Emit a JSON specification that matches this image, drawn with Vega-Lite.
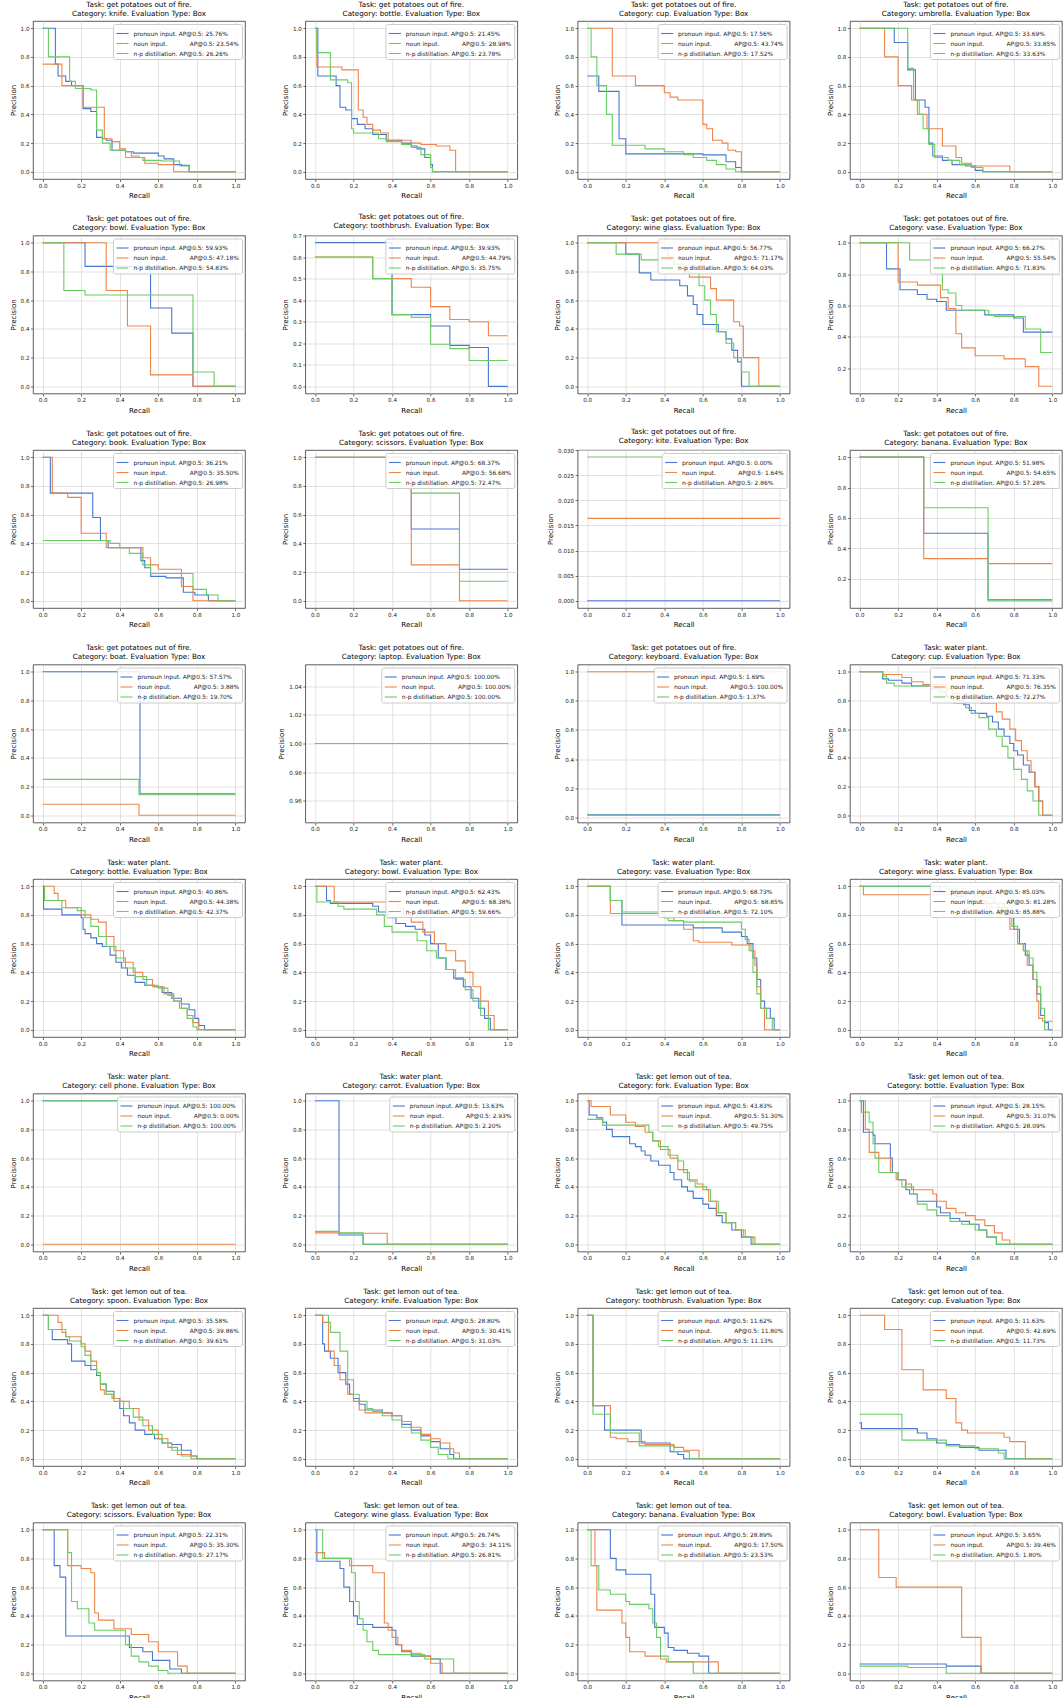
{
  "$schema": "https://vega.github.io/schema/vega-lite/v6.json",
  "padding": {"left": 8, "top": 0, "right": 0, "bottom": 0},
  "columns": 4,
  "spacing": {"row": 56.5, "column": 60.3},
  "bounds": "flush",
  "resolve": {"scale": {"color": "independent"}, "legend": {"color": "independent"}},
  "config": {
    "font": "DejaVu Sans",
    "background": "white",
    "view": {"stroke": "#333333", "strokeWidth": 0.8, "continuousWidth": 212, "continuousHeight": 158},
    "line": {"interpolate": "step-after", "strokeWidth": 1.1},
    "range": {"category": ["#4878d0", "#ee854a", "#6acc64"]},
    "title": {"fontSize": 7.2, "fontWeight": "normal", "color": "#000000", "offset": 4, "lineHeight": 9, "anchor": "middle"},
    "axis": {"labelFontSize": 5.6, "labelColor": "#222222", "titleFontSize": 7, "titleFontWeight": "normal", "titleColor": "#000000", "tickSize": 2.5, "tickColor": "#333333", "tickWidth": 0.7, "labelPadding": 1.5, "domain": false, "gridColor": "#d4d4d4", "gridWidth": 0.7, "tickCount": 5, "titlePadding": 3},
    "axisY": {"titlePadding": 4},
    "legend": {"orient": "top-right", "offset": 3, "padding": 2.5, "fillColor": "rgba(255,255,255,0.85)", "strokeColor": "#cccccc", "cornerRadius": 2, "labelFontSize": 5.9, "labelColor": "#222222", "symbolType": "stroke", "symbolSize": 144, "symbolStrokeWidth": 1.1, "rowPadding": -2, "labelOffset": 4}
  },
  "datasets": {
    "d01": [
      {"run":"pronoun","recall":0,"precision":1},{"run":"pronoun","recall":0.066,"precision":0.75},{"run":"pronoun","recall":0.08,"precision":0.667},{"run":"pronoun","recall":0.12,"precision":0.63},{"run":"pronoun","recall":0.15,"precision":0.6},{"run":"pronoun","recall":0.21,"precision":0.44},{"run":"pronoun","recall":0.25,"precision":0.42},{"run":"pronoun","recall":0.28,"precision":0.24},{"run":"pronoun","recall":0.31,"precision":0.23},{"run":"pronoun","recall":0.33,"precision":0.22},{"run":"pronoun","recall":0.36,"precision":0.15},{"run":"pronoun","recall":0.43,"precision":0.14},{"run":"pronoun","recall":0.47,"precision":0.13},{"run":"pronoun","recall":0.6,"precision":0.11},{"run":"pronoun","recall":0.63,"precision":0.09},{"run":"pronoun","recall":0.68,"precision":0.05},{"run":"pronoun","recall":0.72,"precision":0.045},{"run":"pronoun","recall":0.76,"precision":0},{"run":"pronoun","recall":1,"precision":0},
      {"run":"noun","recall":0,"precision":0.75},{"run":"noun","recall":0.1,"precision":0.6},{"run":"noun","recall":0.21,"precision":0.45},{"run":"noun","recall":0.32,"precision":0.23},{"run":"noun","recall":0.36,"precision":0.21},{"run":"noun","recall":0.4,"precision":0.16},{"run":"noun","recall":0.43,"precision":0.14},{"run":"noun","recall":0.46,"precision":0.11},{"run":"noun","recall":0.5,"precision":0.1},{"run":"noun","recall":0.53,"precision":0.06},{"run":"noun","recall":0.6,"precision":0.05},{"run":"noun","recall":0.68,"precision":0},{"run":"noun","recall":1,"precision":0},
      {"run":"np","recall":0,"precision":1},{"run":"np","recall":0.03,"precision":0.8},{"run":"np","recall":0.14,"precision":0.63},{"run":"np","recall":0.17,"precision":0.58},{"run":"np","recall":0.25,"precision":0.57},{"run":"np","recall":0.28,"precision":0.29},{"run":"np","recall":0.31,"precision":0.2},{"run":"np","recall":0.35,"precision":0.15},{"run":"np","recall":0.43,"precision":0.1},{"run":"np","recall":0.52,"precision":0.08},{"run":"np","recall":0.62,"precision":0.075},{"run":"np","recall":0.71,"precision":0.04},{"run":"np","recall":0.76,"precision":0},{"run":"np","recall":1,"precision":0}
    ],
    "d02": [
      {"run":"pronoun","recall":0,"precision":1},{"run":"pronoun","recall":0.015,"precision":0.667},{"run":"pronoun","recall":0.11,"precision":0.6},{"run":"pronoun","recall":0.13,"precision":0.45},{"run":"pronoun","recall":0.16,"precision":0.43},{"run":"pronoun","recall":0.19,"precision":0.37},{"run":"pronoun","recall":0.22,"precision":0.33},{"run":"pronoun","recall":0.26,"precision":0.3},{"run":"pronoun","recall":0.3,"precision":0.26},{"run":"pronoun","recall":0.37,"precision":0.22},{"run":"pronoun","recall":0.45,"precision":0.2},{"run":"pronoun","recall":0.5,"precision":0.18},{"run":"pronoun","recall":0.53,"precision":0.16},{"run":"pronoun","recall":0.57,"precision":0.1},{"run":"pronoun","recall":0.6,"precision":0.05},{"run":"pronoun","recall":0.61,"precision":0},{"run":"pronoun","recall":1,"precision":0},
      {"run":"noun","recall":0,"precision":1},{"run":"noun","recall":0.01,"precision":0.73},{"run":"noun","recall":0.14,"precision":0.71},{"run":"noun","recall":0.225,"precision":0.43},{"run":"noun","recall":0.25,"precision":0.38},{"run":"noun","recall":0.27,"precision":0.33},{"run":"noun","recall":0.3,"precision":0.29},{"run":"noun","recall":0.34,"precision":0.27},{"run":"noun","recall":0.38,"precision":0.22},{"run":"noun","recall":0.5,"precision":0.2},{"run":"noun","recall":0.55,"precision":0.19},{"run":"noun","recall":0.63,"precision":0.18},{"run":"noun","recall":0.7,"precision":0.15},{"run":"noun","recall":0.73,"precision":0},{"run":"noun","recall":1,"precision":0},
      {"run":"np","recall":0,"precision":1},{"run":"np","recall":0.01,"precision":0.83},{"run":"np","recall":0.08,"precision":0.64},{"run":"np","recall":0.17,"precision":0.62},{"run":"np","recall":0.19,"precision":0.3},{"run":"np","recall":0.2,"precision":0.27},{"run":"np","recall":0.33,"precision":0.23},{"run":"np","recall":0.37,"precision":0.21},{"run":"np","recall":0.45,"precision":0.19},{"run":"np","recall":0.5,"precision":0.17},{"run":"np","recall":0.55,"precision":0.12},{"run":"np","recall":0.6,"precision":0.03},{"run":"np","recall":0.61,"precision":0},{"run":"np","recall":1,"precision":0}
    ],
    "d03": [
      {"run":"pronoun","recall":0,"precision":0.667},{"run":"pronoun","recall":0.06,"precision":0.56},{"run":"pronoun","recall":0.165,"precision":0.23},{"run":"pronoun","recall":0.2,"precision":0.125},{"run":"pronoun","recall":0.6,"precision":0.118},{"run":"pronoun","recall":0.72,"precision":0.07},{"run":"pronoun","recall":0.77,"precision":0.03},{"run":"pronoun","recall":0.8,"precision":0},{"run":"pronoun","recall":1,"precision":0},
      {"run":"noun","recall":0,"precision":1},{"run":"noun","recall":0.13,"precision":0.667},{"run":"noun","recall":0.25,"precision":0.6},{"run":"noun","recall":0.4,"precision":0.55},{"run":"noun","recall":0.43,"precision":0.52},{"run":"noun","recall":0.47,"precision":0.5},{"run":"noun","recall":0.6,"precision":0.33},{"run":"noun","recall":0.62,"precision":0.3},{"run":"noun","recall":0.65,"precision":0.22},{"run":"noun","recall":0.7,"precision":0.2},{"run":"noun","recall":0.73,"precision":0.15},{"run":"noun","recall":0.77,"precision":0.14},{"run":"noun","recall":0.8,"precision":0},{"run":"noun","recall":1,"precision":0},
      {"run":"np","recall":0,"precision":1},{"run":"np","recall":0.02,"precision":0.8},{"run":"np","recall":0.05,"precision":0.6},{"run":"np","recall":0.1,"precision":0.4},{"run":"np","recall":0.13,"precision":0.185},{"run":"np","recall":0.3,"precision":0.16},{"run":"np","recall":0.4,"precision":0.14},{"run":"np","recall":0.5,"precision":0.12},{"run":"np","recall":0.55,"precision":0.1},{"run":"np","recall":0.62,"precision":0.08},{"run":"np","recall":0.67,"precision":0.05},{"run":"np","recall":0.72,"precision":0.02},{"run":"np","recall":0.77,"precision":0},{"run":"np","recall":1,"precision":0}
    ],
    "d04": [
      {"run":"pronoun","recall":0,"precision":1},{"run":"pronoun","recall":0.18,"precision":0.9},{"run":"pronoun","recall":0.25,"precision":0.71},{"run":"pronoun","recall":0.29,"precision":0.5},{"run":"pronoun","recall":0.34,"precision":0.45},{"run":"pronoun","recall":0.36,"precision":0.2},{"run":"pronoun","recall":0.38,"precision":0.11},{"run":"pronoun","recall":0.43,"precision":0.08},{"run":"pronoun","recall":0.48,"precision":0.05},{"run":"pronoun","recall":0.55,"precision":0.04},{"run":"pronoun","recall":0.6,"precision":0.01},{"run":"pronoun","recall":0.64,"precision":0},{"run":"pronoun","recall":1,"precision":0},
      {"run":"noun","recall":0,"precision":1},{"run":"noun","recall":0.13,"precision":0.8},{"run":"noun","recall":0.2,"precision":0.6},{"run":"noun","recall":0.27,"precision":0.5},{"run":"noun","recall":0.3,"precision":0.4},{"run":"noun","recall":0.35,"precision":0.3},{"run":"noun","recall":0.43,"precision":0.18},{"run":"noun","recall":0.5,"precision":0.1},{"run":"noun","recall":0.53,"precision":0.06},{"run":"noun","recall":0.58,"precision":0.04},{"run":"noun","recall":0.78,"precision":0},{"run":"noun","recall":1,"precision":0},
      {"run":"np","recall":0,"precision":1},{"run":"np","recall":0.25,"precision":0.72},{"run":"np","recall":0.28,"precision":0.5},{"run":"np","recall":0.31,"precision":0.4},{"run":"np","recall":0.33,"precision":0.3},{"run":"np","recall":0.36,"precision":0.19},{"run":"np","recall":0.39,"precision":0.1},{"run":"np","recall":0.46,"precision":0.08},{"run":"np","recall":0.52,"precision":0.05},{"run":"np","recall":0.58,"precision":0.03},{"run":"np","recall":0.64,"precision":0},{"run":"np","recall":1,"precision":0}
    ],
    "d05": [
      {"run":"pronoun","recall":0,"precision":1},{"run":"pronoun","recall":0.22,"precision":0.835},{"run":"pronoun","recall":0.56,"precision":0.545},{"run":"pronoun","recall":0.67,"precision":0.37},{"run":"pronoun","recall":0.78,"precision":0},{"run":"pronoun","recall":1,"precision":0},
      {"run":"noun","recall":0,"precision":1},{"run":"noun","recall":0.33,"precision":0.667},{"run":"noun","recall":0.44,"precision":0.42},{"run":"noun","recall":0.56,"precision":0.08},{"run":"noun","recall":0.78,"precision":0},{"run":"noun","recall":1,"precision":0},
      {"run":"np","recall":0,"precision":1},{"run":"np","recall":0.11,"precision":0.667},{"run":"np","recall":0.22,"precision":0.636},{"run":"np","recall":0.78,"precision":0.1},{"run":"np","recall":0.89,"precision":0},{"run":"np","recall":1,"precision":0}
    ],
    "d06": [
      {"run":"pronoun","recall":0,"precision":0.667},{"run":"pronoun","recall":0.4,"precision":0.333},{"run":"pronoun","recall":0.6,"precision":0.28},{"run":"pronoun","recall":0.7,"precision":0.19},{"run":"pronoun","recall":0.8,"precision":0.18},{"run":"pronoun","recall":0.9,"precision":0},{"run":"pronoun","recall":1,"precision":0},
      {"run":"noun","recall":0,"precision":0.6},{"run":"noun","recall":0.3,"precision":0.5},{"run":"noun","recall":0.5,"precision":0.46},{"run":"noun","recall":0.6,"precision":0.37},{"run":"noun","recall":0.7,"precision":0.31},{"run":"noun","recall":0.8,"precision":0.3},{"run":"noun","recall":0.9,"precision":0.235},{"run":"noun","recall":1,"precision":0.235},
      {"run":"np","recall":0,"precision":0.6},{"run":"np","recall":0.3,"precision":0.5},{"run":"np","recall":0.4,"precision":0.333},{"run":"np","recall":0.5,"precision":0.32},{"run":"np","recall":0.6,"precision":0.195},{"run":"np","recall":0.7,"precision":0.175},{"run":"np","recall":0.8,"precision":0.12},{"run":"np","recall":1,"precision":0.12}
    ],
    "d07": [
      {"run":"pronoun","recall":0,"precision":1},{"run":"pronoun","recall":0.2,"precision":0.92},{"run":"pronoun","recall":0.27,"precision":0.79},{"run":"pronoun","recall":0.33,"precision":0.74},{"run":"pronoun","recall":0.48,"precision":0.7},{"run":"pronoun","recall":0.52,"precision":0.63},{"run":"pronoun","recall":0.55,"precision":0.57},{"run":"pronoun","recall":0.57,"precision":0.5},{"run":"pronoun","recall":0.6,"precision":0.43},{"run":"pronoun","recall":0.68,"precision":0.38},{"run":"pronoun","recall":0.72,"precision":0.33},{"run":"pronoun","recall":0.75,"precision":0.25},{"run":"pronoun","recall":0.78,"precision":0.17},{"run":"pronoun","recall":0.8,"precision":0},{"run":"pronoun","recall":1,"precision":0},
      {"run":"noun","recall":0,"precision":1},{"run":"noun","recall":0.4,"precision":0.95},{"run":"noun","recall":0.42,"precision":0.9},{"run":"noun","recall":0.45,"precision":0.85},{"run":"noun","recall":0.5,"precision":0.8},{"run":"noun","recall":0.53,"precision":0.76},{"run":"noun","recall":0.64,"precision":0.68},{"run":"noun","recall":0.67,"precision":0.6},{"run":"noun","recall":0.76,"precision":0.45},{"run":"noun","recall":0.79,"precision":0.42},{"run":"noun","recall":0.81,"precision":0.2},{"run":"noun","recall":0.89,"precision":0},{"run":"noun","recall":1,"precision":0},
      {"run":"np","recall":0,"precision":1},{"run":"np","recall":0.15,"precision":0.92},{"run":"np","recall":0.28,"precision":0.88},{"run":"np","recall":0.45,"precision":0.85},{"run":"np","recall":0.5,"precision":0.79},{"run":"np","recall":0.58,"precision":0.7},{"run":"np","recall":0.61,"precision":0.6},{"run":"np","recall":0.64,"precision":0.5},{"run":"np","recall":0.67,"precision":0.38},{"run":"np","recall":0.72,"precision":0.3},{"run":"np","recall":0.76,"precision":0.2},{"run":"np","recall":0.8,"precision":0.1},{"run":"np","recall":0.84,"precision":0},{"run":"np","recall":1,"precision":0}
    ],
    "d08": [
      {"run":"pronoun","recall":0,"precision":1},{"run":"pronoun","recall":0.14,"precision":0.833},{"run":"pronoun","recall":0.21,"precision":0.7},{"run":"pronoun","recall":0.3,"precision":0.67},{"run":"pronoun","recall":0.35,"precision":0.64},{"run":"pronoun","recall":0.4,"precision":0.625},{"run":"pronoun","recall":0.45,"precision":0.57},{"run":"pronoun","recall":0.65,"precision":0.54},{"run":"pronoun","recall":0.8,"precision":0.52},{"run":"pronoun","recall":0.85,"precision":0.43},{"run":"pronoun","recall":1,"precision":0.43},
      {"run":"noun","recall":0,"precision":1},{"run":"noun","recall":0.2,"precision":0.75},{"run":"noun","recall":0.3,"precision":0.73},{"run":"noun","recall":0.42,"precision":0.65},{"run":"noun","recall":0.46,"precision":0.58},{"run":"noun","recall":0.5,"precision":0.42},{"run":"noun","recall":0.53,"precision":0.33},{"run":"noun","recall":0.6,"precision":0.28},{"run":"noun","recall":0.75,"precision":0.26},{"run":"noun","recall":0.86,"precision":0.21},{"run":"noun","recall":0.93,"precision":0.085},{"run":"noun","recall":1,"precision":0.085},
      {"run":"np","recall":0,"precision":1},{"run":"np","recall":0.26,"precision":0.89},{"run":"np","recall":0.43,"precision":0.7},{"run":"np","recall":0.46,"precision":0.68},{"run":"np","recall":0.5,"precision":0.6},{"run":"np","recall":0.53,"precision":0.57},{"run":"np","recall":0.67,"precision":0.54},{"run":"np","recall":0.7,"precision":0.53},{"run":"np","recall":0.86,"precision":0.45},{"run":"np","recall":0.94,"precision":0.3},{"run":"np","recall":1,"precision":0.3}
    ],
    "d09": [
      {"run":"pronoun","recall":0,"precision":1},{"run":"pronoun","recall":0.04,"precision":0.75},{"run":"pronoun","recall":0.26,"precision":0.58},{"run":"pronoun","recall":0.3,"precision":0.42},{"run":"pronoun","recall":0.34,"precision":0.37},{"run":"pronoun","recall":0.51,"precision":0.28},{"run":"pronoun","recall":0.53,"precision":0.23},{"run":"pronoun","recall":0.56,"precision":0.17},{"run":"pronoun","recall":0.64,"precision":0.16},{"run":"pronoun","recall":0.73,"precision":0.06},{"run":"pronoun","recall":0.79,"precision":0.04},{"run":"pronoun","recall":0.86,"precision":0},{"run":"pronoun","recall":1,"precision":0},
      {"run":"noun","recall":0,"precision":1},{"run":"noun","recall":0.05,"precision":0.75},{"run":"noun","recall":0.13,"precision":0.72},{"run":"noun","recall":0.2,"precision":0.47},{"run":"noun","recall":0.33,"precision":0.37},{"run":"noun","recall":0.52,"precision":0.3},{"run":"noun","recall":0.56,"precision":0.25},{"run":"noun","recall":0.6,"precision":0.22},{"run":"noun","recall":0.72,"precision":0.1},{"run":"noun","recall":0.78,"precision":0},{"run":"noun","recall":1,"precision":0},
      {"run":"np","recall":0,"precision":0.42},{"run":"np","recall":0.35,"precision":0.4},{"run":"np","recall":0.4,"precision":0.37},{"run":"np","recall":0.45,"precision":0.33},{"run":"np","recall":0.52,"precision":0.25},{"run":"np","recall":0.56,"precision":0.19},{"run":"np","recall":0.78,"precision":0.08},{"run":"np","recall":0.85,"precision":0.04},{"run":"np","recall":0.91,"precision":0},{"run":"np","recall":1,"precision":0}
    ],
    "d10": [
      {"run":"pronoun","recall":0,"precision":1},{"run":"pronoun","recall":0.5,"precision":0.5},{"run":"pronoun","recall":0.75,"precision":0.22},{"run":"pronoun","recall":1,"precision":0.22},
      {"run":"noun","recall":0,"precision":1},{"run":"noun","recall":0.5,"precision":0.25},{"run":"noun","recall":0.75,"precision":0},{"run":"noun","recall":1,"precision":0},
      {"run":"np","recall":0,"precision":1},{"run":"np","recall":0.5,"precision":0.75},{"run":"np","recall":0.75,"precision":0.136},{"run":"np","recall":1,"precision":0.136}
    ],
    "d11": [
      {"run":"pronoun","recall":0,"precision":0},{"run":"pronoun","recall":1,"precision":0},
      {"run":"noun","recall":0,"precision":0.0164},{"run":"noun","recall":1,"precision":0.0164},
      {"run":"np","recall":0,"precision":0.0286},{"run":"np","recall":1,"precision":0.0286}
    ],
    "d12": [
      {"run":"pronoun","recall":0,"precision":1},{"run":"pronoun","recall":0.333,"precision":0.5},{"run":"pronoun","recall":0.667,"precision":0.0625},{"run":"pronoun","recall":1,"precision":0.0625},
      {"run":"noun","recall":0,"precision":1},{"run":"noun","recall":0.333,"precision":0.333},{"run":"noun","recall":0.667,"precision":0.3},{"run":"noun","recall":1,"precision":0.3},
      {"run":"np","recall":0,"precision":1},{"run":"np","recall":0.333,"precision":0.667},{"run":"np","recall":0.667,"precision":0.055},{"run":"np","recall":1,"precision":0.055}
    ],
    "d13": [
      {"run":"pronoun","recall":0,"precision":1},{"run":"pronoun","recall":0.505,"precision":0.15},{"run":"pronoun","recall":1,"precision":0.15},
      {"run":"noun","recall":0,"precision":0.077},{"run":"noun","recall":0.5,"precision":0},{"run":"noun","recall":1,"precision":0},
      {"run":"np","recall":0,"precision":0.25},{"run":"np","recall":0.5,"precision":0.143},{"run":"np","recall":1,"precision":0.143}
    ],
    "d14": [
      {"run":"pronoun","recall":0,"precision":1},{"run":"pronoun","recall":1,"precision":1},
      {"run":"noun","recall":0,"precision":1},{"run":"noun","recall":1,"precision":1},
      {"run":"np","recall":0,"precision":1},{"run":"np","recall":1,"precision":1}
    ],
    "d15": [
      {"run":"pronoun","recall":0,"precision":0.0169},{"run":"pronoun","recall":1,"precision":0.0169},
      {"run":"noun","recall":0,"precision":1},{"run":"noun","recall":1,"precision":1},
      {"run":"np","recall":0,"precision":0.0137},{"run":"np","recall":1,"precision":0.0137}
    ],
    "d16": [
      {"run":"pronoun","recall":0,"precision":1},{"run":"pronoun","recall":0.12,"precision":0.95},{"run":"pronoun","recall":0.15,"precision":0.94},{"run":"pronoun","recall":0.22,"precision":0.92},{"run":"pronoun","recall":0.27,"precision":0.9},{"run":"pronoun","recall":0.37,"precision":0.88},{"run":"pronoun","recall":0.42,"precision":0.86},{"run":"pronoun","recall":0.45,"precision":0.83},{"run":"pronoun","recall":0.51,"precision":0.8},{"run":"pronoun","recall":0.54,"precision":0.77},{"run":"pronoun","recall":0.57,"precision":0.73},{"run":"pronoun","recall":0.6,"precision":0.71},{"run":"pronoun","recall":0.66,"precision":0.69},{"run":"pronoun","recall":0.69,"precision":0.65},{"run":"pronoun","recall":0.72,"precision":0.6},{"run":"pronoun","recall":0.75,"precision":0.55},{"run":"pronoun","recall":0.78,"precision":0.5},{"run":"pronoun","recall":0.8,"precision":0.45},{"run":"pronoun","recall":0.82,"precision":0.42},{"run":"pronoun","recall":0.85,"precision":0.35},{"run":"pronoun","recall":0.88,"precision":0.3},{"run":"pronoun","recall":0.91,"precision":0.2},{"run":"pronoun","recall":0.93,"precision":0.1},{"run":"pronoun","recall":0.95,"precision":0},{"run":"pronoun","recall":1,"precision":0},
      {"run":"noun","recall":0,"precision":1},{"run":"noun","recall":0.12,"precision":0.98},{"run":"noun","recall":0.22,"precision":0.96},{"run":"noun","recall":0.27,"precision":0.93},{"run":"noun","recall":0.33,"precision":0.91},{"run":"noun","recall":0.45,"precision":0.88},{"run":"noun","recall":0.48,"precision":0.85},{"run":"noun","recall":0.52,"precision":0.82},{"run":"noun","recall":0.6,"precision":0.8},{"run":"noun","recall":0.63,"precision":0.78},{"run":"noun","recall":0.71,"precision":0.72},{"run":"noun","recall":0.74,"precision":0.67},{"run":"noun","recall":0.78,"precision":0.6},{"run":"noun","recall":0.81,"precision":0.52},{"run":"noun","recall":0.84,"precision":0.45},{"run":"noun","recall":0.87,"precision":0.38},{"run":"noun","recall":0.89,"precision":0.3},{"run":"noun","recall":0.91,"precision":0.2},{"run":"noun","recall":0.93,"precision":0.1},{"run":"noun","recall":0.95,"precision":0},{"run":"noun","recall":1,"precision":0},
      {"run":"np","recall":0,"precision":1},{"run":"np","recall":0.12,"precision":0.97},{"run":"np","recall":0.14,"precision":0.92},{"run":"np","recall":0.18,"precision":0.9},{"run":"np","recall":0.4,"precision":0.88},{"run":"np","recall":0.45,"precision":0.82},{"run":"np","recall":0.49,"precision":0.78},{"run":"np","recall":0.55,"precision":0.75},{"run":"np","recall":0.58,"precision":0.71},{"run":"np","recall":0.62,"precision":0.68},{"run":"np","recall":0.67,"precision":0.6},{"run":"np","recall":0.71,"precision":0.55},{"run":"np","recall":0.74,"precision":0.48},{"run":"np","recall":0.77,"precision":0.4},{"run":"np","recall":0.8,"precision":0.32},{"run":"np","recall":0.84,"precision":0.25},{"run":"np","recall":0.87,"precision":0.17},{"run":"np","recall":0.9,"precision":0.1},{"run":"np","recall":0.93,"precision":0},{"run":"np","recall":1,"precision":0}
    ],
    "d17": [
      {"run":"pronoun","recall":0,"precision":1},{"run":"pronoun","recall":0.005,"precision":0.84},{"run":"pronoun","recall":0.1,"precision":0.8},{"run":"pronoun","recall":0.2,"precision":0.78},{"run":"pronoun","recall":0.21,"precision":0.7},{"run":"pronoun","recall":0.22,"precision":0.67},{"run":"pronoun","recall":0.25,"precision":0.64},{"run":"pronoun","recall":0.28,"precision":0.6},{"run":"pronoun","recall":0.31,"precision":0.58},{"run":"pronoun","recall":0.35,"precision":0.52},{"run":"pronoun","recall":0.38,"precision":0.47},{"run":"pronoun","recall":0.41,"precision":0.43},{"run":"pronoun","recall":0.44,"precision":0.38},{"run":"pronoun","recall":0.48,"precision":0.33},{"run":"pronoun","recall":0.53,"precision":0.31},{"run":"pronoun","recall":0.58,"precision":0.3},{"run":"pronoun","recall":0.62,"precision":0.26},{"run":"pronoun","recall":0.67,"precision":0.22},{"run":"pronoun","recall":0.72,"precision":0.18},{"run":"pronoun","recall":0.76,"precision":0.14},{"run":"pronoun","recall":0.79,"precision":0.08},{"run":"pronoun","recall":0.81,"precision":0.03},{"run":"pronoun","recall":0.84,"precision":0},{"run":"pronoun","recall":1,"precision":0},
      {"run":"noun","recall":0,"precision":1},{"run":"noun","recall":0.06,"precision":0.95},{"run":"noun","recall":0.08,"precision":0.9},{"run":"noun","recall":0.12,"precision":0.85},{"run":"noun","recall":0.2,"precision":0.8},{"run":"noun","recall":0.25,"precision":0.77},{"run":"noun","recall":0.29,"precision":0.75},{"run":"noun","recall":0.33,"precision":0.65},{"run":"noun","recall":0.37,"precision":0.55},{"run":"noun","recall":0.42,"precision":0.47},{"run":"noun","recall":0.47,"precision":0.4},{"run":"noun","recall":0.52,"precision":0.35},{"run":"noun","recall":0.57,"precision":0.3},{"run":"noun","recall":0.63,"precision":0.25},{"run":"noun","recall":0.68,"precision":0.2},{"run":"noun","recall":0.72,"precision":0.15},{"run":"noun","recall":0.75,"precision":0.1},{"run":"noun","recall":0.78,"precision":0.05},{"run":"noun","recall":0.81,"precision":0},{"run":"noun","recall":1,"precision":0},
      {"run":"np","recall":0,"precision":1},{"run":"np","recall":0.01,"precision":0.9},{"run":"np","recall":0.1,"precision":0.85},{"run":"np","recall":0.18,"precision":0.83},{"run":"np","recall":0.22,"precision":0.78},{"run":"np","recall":0.25,"precision":0.72},{"run":"np","recall":0.29,"precision":0.65},{"run":"np","recall":0.33,"precision":0.58},{"run":"np","recall":0.38,"precision":0.5},{"run":"np","recall":0.43,"precision":0.43},{"run":"np","recall":0.48,"precision":0.37},{"run":"np","recall":0.54,"precision":0.31},{"run":"np","recall":0.6,"precision":0.29},{"run":"np","recall":0.65,"precision":0.24},{"run":"np","recall":0.68,"precision":0.2},{"run":"np","recall":0.71,"precision":0.15},{"run":"np","recall":0.75,"precision":0.08},{"run":"np","recall":0.78,"precision":0.02},{"run":"np","recall":0.8,"precision":0},{"run":"np","recall":1,"precision":0}
    ],
    "d18": [
      {"run":"pronoun","recall":0,"precision":1},{"run":"pronoun","recall":0.06,"precision":0.9},{"run":"pronoun","recall":0.08,"precision":0.88},{"run":"pronoun","recall":0.3,"precision":0.86},{"run":"pronoun","recall":0.33,"precision":0.82},{"run":"pronoun","recall":0.38,"precision":0.78},{"run":"pronoun","recall":0.42,"precision":0.74},{"run":"pronoun","recall":0.47,"precision":0.72},{"run":"pronoun","recall":0.52,"precision":0.7},{"run":"pronoun","recall":0.57,"precision":0.66},{"run":"pronoun","recall":0.6,"precision":0.6},{"run":"pronoun","recall":0.64,"precision":0.5},{"run":"pronoun","recall":0.68,"precision":0.42},{"run":"pronoun","recall":0.72,"precision":0.36},{"run":"pronoun","recall":0.77,"precision":0.3},{"run":"pronoun","recall":0.81,"precision":0.22},{"run":"pronoun","recall":0.85,"precision":0.15},{"run":"pronoun","recall":0.88,"precision":0.08},{"run":"pronoun","recall":0.91,"precision":0},{"run":"pronoun","recall":1,"precision":0},
      {"run":"noun","recall":0,"precision":1},{"run":"noun","recall":0.1,"precision":0.89},{"run":"noun","recall":0.43,"precision":0.85},{"run":"noun","recall":0.46,"precision":0.8},{"run":"noun","recall":0.5,"precision":0.75},{"run":"noun","recall":0.56,"precision":0.68},{"run":"noun","recall":0.62,"precision":0.6},{"run":"noun","recall":0.68,"precision":0.55},{"run":"noun","recall":0.73,"precision":0.48},{"run":"noun","recall":0.78,"precision":0.4},{"run":"noun","recall":0.82,"precision":0.3},{"run":"noun","recall":0.86,"precision":0.2},{"run":"noun","recall":0.9,"precision":0.1},{"run":"noun","recall":0.93,"precision":0},{"run":"noun","recall":1,"precision":0},
      {"run":"np","recall":0,"precision":1},{"run":"np","recall":0.01,"precision":0.89},{"run":"np","recall":0.12,"precision":0.86},{"run":"np","recall":0.15,"precision":0.84},{"run":"np","recall":0.32,"precision":0.8},{"run":"np","recall":0.36,"precision":0.72},{"run":"np","recall":0.4,"precision":0.68},{"run":"np","recall":0.53,"precision":0.62},{"run":"np","recall":0.58,"precision":0.55},{"run":"np","recall":0.63,"precision":0.5},{"run":"np","recall":0.68,"precision":0.42},{"run":"np","recall":0.73,"precision":0.35},{"run":"np","recall":0.78,"precision":0.28},{"run":"np","recall":0.82,"precision":0.2},{"run":"np","recall":0.86,"precision":0.1},{"run":"np","recall":0.9,"precision":0},{"run":"np","recall":1,"precision":0}
    ],
    "d19": [
      {"run":"pronoun","recall":0,"precision":1},{"run":"pronoun","recall":0.12,"precision":0.9},{"run":"pronoun","recall":0.18,"precision":0.73},{"run":"pronoun","recall":0.55,"precision":0.71},{"run":"pronoun","recall":0.7,"precision":0.68},{"run":"pronoun","recall":0.8,"precision":0.65},{"run":"pronoun","recall":0.83,"precision":0.6},{"run":"pronoun","recall":0.86,"precision":0.5},{"run":"pronoun","recall":0.88,"precision":0.35},{"run":"pronoun","recall":0.9,"precision":0.2},{"run":"pronoun","recall":0.92,"precision":0.15},{"run":"pronoun","recall":0.95,"precision":0.08},{"run":"pronoun","recall":0.97,"precision":0},{"run":"pronoun","recall":1,"precision":0},
      {"run":"noun","recall":0,"precision":1},{"run":"noun","recall":0.12,"precision":0.81},{"run":"noun","recall":0.4,"precision":0.78},{"run":"noun","recall":0.45,"precision":0.76},{"run":"noun","recall":0.5,"precision":0.7},{"run":"noun","recall":0.55,"precision":0.62},{"run":"noun","recall":0.58,"precision":0.61},{"run":"noun","recall":0.75,"precision":0.59},{"run":"noun","recall":0.85,"precision":0.55},{"run":"noun","recall":0.87,"precision":0.45},{"run":"noun","recall":0.88,"precision":0.3},{"run":"noun","recall":0.9,"precision":0.15},{"run":"noun","recall":0.92,"precision":0},{"run":"noun","recall":1,"precision":0},
      {"run":"np","recall":0,"precision":1},{"run":"np","recall":0.12,"precision":0.9},{"run":"np","recall":0.18,"precision":0.82},{"run":"np","recall":0.4,"precision":0.78},{"run":"np","recall":0.42,"precision":0.76},{"run":"np","recall":0.5,"precision":0.75},{"run":"np","recall":0.8,"precision":0.7},{"run":"np","recall":0.82,"precision":0.63},{"run":"np","recall":0.84,"precision":0.55},{"run":"np","recall":0.86,"precision":0.4},{"run":"np","recall":0.88,"precision":0.25},{"run":"np","recall":0.9,"precision":0.15},{"run":"np","recall":0.93,"precision":0.08},{"run":"np","recall":0.96,"precision":0},{"run":"np","recall":1,"precision":0}
    ],
    "d20": [
      {"run":"pronoun","recall":0,"precision":1},{"run":"pronoun","recall":0.42,"precision":0.96},{"run":"pronoun","recall":0.5,"precision":0.93},{"run":"pronoun","recall":0.55,"precision":0.9},{"run":"pronoun","recall":0.65,"precision":0.88},{"run":"pronoun","recall":0.72,"precision":0.85},{"run":"pronoun","recall":0.77,"precision":0.82},{"run":"pronoun","recall":0.8,"precision":0.7},{"run":"pronoun","recall":0.83,"precision":0.6},{"run":"pronoun","recall":0.86,"precision":0.52},{"run":"pronoun","recall":0.88,"precision":0.45},{"run":"pronoun","recall":0.9,"precision":0.35},{"run":"pronoun","recall":0.92,"precision":0.25},{"run":"pronoun","recall":0.94,"precision":0.1},{"run":"pronoun","recall":0.96,"precision":0.05},{"run":"pronoun","recall":0.98,"precision":0},{"run":"pronoun","recall":1,"precision":0},
      {"run":"noun","recall":0,"precision":1},{"run":"noun","recall":0.02,"precision":0.94},{"run":"noun","recall":0.6,"precision":0.9},{"run":"noun","recall":0.66,"precision":0.85},{"run":"noun","recall":0.72,"precision":0.8},{"run":"noun","recall":0.78,"precision":0.7},{"run":"noun","recall":0.82,"precision":0.6},{"run":"noun","recall":0.85,"precision":0.55},{"run":"noun","recall":0.87,"precision":0.45},{"run":"noun","recall":0.9,"precision":0.35},{"run":"noun","recall":0.92,"precision":0.2},{"run":"noun","recall":0.93,"precision":0.08},{"run":"noun","recall":0.95,"precision":0.06},{"run":"noun","recall":1,"precision":0.06},
      {"run":"np","recall":0,"precision":1},{"run":"np","recall":0.45,"precision":0.98},{"run":"np","recall":0.55,"precision":0.95},{"run":"np","recall":0.63,"precision":0.92},{"run":"np","recall":0.7,"precision":0.88},{"run":"np","recall":0.75,"precision":0.82},{"run":"np","recall":0.79,"precision":0.72},{"run":"np","recall":0.82,"precision":0.6},{"run":"np","recall":0.85,"precision":0.55},{"run":"np","recall":0.88,"precision":0.5},{"run":"np","recall":0.9,"precision":0.4},{"run":"np","recall":0.92,"precision":0.3},{"run":"np","recall":0.94,"precision":0.15},{"run":"np","recall":0.96,"precision":0},{"run":"np","recall":1,"precision":0}
    ],
    "d21": [
      {"run":"pronoun","recall":0,"precision":1},{"run":"pronoun","recall":1,"precision":1},
      {"run":"noun","recall":0,"precision":0},{"run":"noun","recall":1,"precision":0},
      {"run":"np","recall":0,"precision":1},{"run":"np","recall":1,"precision":1}
    ],
    "d22": [
      {"run":"pronoun","recall":0,"precision":1},{"run":"pronoun","recall":0.125,"precision":0.065},{"run":"pronoun","recall":0.25,"precision":0},{"run":"pronoun","recall":1,"precision":0},
      {"run":"noun","recall":0,"precision":0.08},{"run":"noun","recall":0.125,"precision":0.077},{"run":"noun","recall":0.375,"precision":0},{"run":"noun","recall":1,"precision":0},
      {"run":"np","recall":0,"precision":0.09},{"run":"np","recall":0.125,"precision":0.08},{"run":"np","recall":0.25,"precision":0},{"run":"np","recall":1,"precision":0}
    ],
    "d23": [
      {"run":"pronoun","recall":0,"precision":1},{"run":"pronoun","recall":0.01,"precision":0.9},{"run":"pronoun","recall":0.05,"precision":0.88},{"run":"pronoun","recall":0.08,"precision":0.85},{"run":"pronoun","recall":0.1,"precision":0.8},{"run":"pronoun","recall":0.13,"precision":0.75},{"run":"pronoun","recall":0.22,"precision":0.7},{"run":"pronoun","recall":0.25,"precision":0.68},{"run":"pronoun","recall":0.28,"precision":0.65},{"run":"pronoun","recall":0.3,"precision":0.62},{"run":"pronoun","recall":0.33,"precision":0.58},{"run":"pronoun","recall":0.37,"precision":0.55},{"run":"pronoun","recall":0.43,"precision":0.5},{"run":"pronoun","recall":0.45,"precision":0.45},{"run":"pronoun","recall":0.49,"precision":0.4},{"run":"pronoun","recall":0.52,"precision":0.37},{"run":"pronoun","recall":0.55,"precision":0.32},{"run":"pronoun","recall":0.6,"precision":0.28},{"run":"pronoun","recall":0.63,"precision":0.25},{"run":"pronoun","recall":0.67,"precision":0.2},{"run":"pronoun","recall":0.7,"precision":0.15},{"run":"pronoun","recall":0.75,"precision":0.1},{"run":"pronoun","recall":0.8,"precision":0.05},{"run":"pronoun","recall":0.85,"precision":0},{"run":"pronoun","recall":1,"precision":0},
      {"run":"noun","recall":0,"precision":1},{"run":"noun","recall":0.02,"precision":0.96},{"run":"noun","recall":0.12,"precision":0.9},{"run":"noun","recall":0.2,"precision":0.85},{"run":"noun","recall":0.25,"precision":0.82},{"run":"noun","recall":0.3,"precision":0.78},{"run":"noun","recall":0.34,"precision":0.72},{"run":"noun","recall":0.38,"precision":0.66},{"run":"noun","recall":0.43,"precision":0.6},{"run":"noun","recall":0.47,"precision":0.52},{"run":"noun","recall":0.52,"precision":0.45},{"run":"noun","recall":0.57,"precision":0.42},{"run":"noun","recall":0.6,"precision":0.38},{"run":"noun","recall":0.63,"precision":0.3},{"run":"noun","recall":0.67,"precision":0.22},{"run":"noun","recall":0.72,"precision":0.15},{"run":"noun","recall":0.77,"precision":0.1},{"run":"noun","recall":0.82,"precision":0.05},{"run":"noun","recall":0.87,"precision":0},{"run":"noun","recall":1,"precision":0},
      {"run":"np","recall":0,"precision":0.87},{"run":"np","recall":0.08,"precision":0.83},{"run":"np","recall":0.32,"precision":0.78},{"run":"np","recall":0.34,"precision":0.72},{"run":"np","recall":0.37,"precision":0.68},{"run":"np","recall":0.42,"precision":0.62},{"run":"np","recall":0.47,"precision":0.58},{"run":"np","recall":0.5,"precision":0.5},{"run":"np","recall":0.53,"precision":0.44},{"run":"np","recall":0.56,"precision":0.4},{"run":"np","recall":0.62,"precision":0.38},{"run":"np","recall":0.64,"precision":0.3},{"run":"np","recall":0.68,"precision":0.22},{"run":"np","recall":0.72,"precision":0.15},{"run":"np","recall":0.77,"precision":0.1},{"run":"np","recall":0.81,"precision":0.05},{"run":"np","recall":0.86,"precision":0},{"run":"np","recall":1,"precision":0}
    ],
    "d24": [
      {"run":"pronoun","recall":0,"precision":1},{"run":"pronoun","recall":0.02,"precision":0.78},{"run":"pronoun","recall":0.07,"precision":0.76},{"run":"pronoun","recall":0.08,"precision":0.7},{"run":"pronoun","recall":0.16,"precision":0.6},{"run":"pronoun","recall":0.17,"precision":0.5},{"run":"pronoun","recall":0.2,"precision":0.45},{"run":"pronoun","recall":0.24,"precision":0.38},{"run":"pronoun","recall":0.26,"precision":0.35},{"run":"pronoun","recall":0.3,"precision":0.3},{"run":"pronoun","recall":0.4,"precision":0.26},{"run":"pronoun","recall":0.42,"precision":0.22},{"run":"pronoun","recall":0.47,"precision":0.18},{"run":"pronoun","recall":0.52,"precision":0.16},{"run":"pronoun","recall":0.57,"precision":0.14},{"run":"pronoun","recall":0.62,"precision":0.1},{"run":"pronoun","recall":0.66,"precision":0.05},{"run":"pronoun","recall":0.71,"precision":0},{"run":"pronoun","recall":1,"precision":0},
      {"run":"noun","recall":0,"precision":1},{"run":"noun","recall":0.01,"precision":0.92},{"run":"noun","recall":0.03,"precision":0.8},{"run":"noun","recall":0.05,"precision":0.64},{"run":"noun","recall":0.1,"precision":0.6},{"run":"noun","recall":0.16,"precision":0.5},{"run":"noun","recall":0.19,"precision":0.45},{"run":"noun","recall":0.24,"precision":0.42},{"run":"noun","recall":0.27,"precision":0.38},{"run":"noun","recall":0.38,"precision":0.35},{"run":"noun","recall":0.4,"precision":0.3},{"run":"noun","recall":0.45,"precision":0.25},{"run":"noun","recall":0.5,"precision":0.22},{"run":"noun","recall":0.55,"precision":0.2},{"run":"noun","recall":0.6,"precision":0.17},{"run":"noun","recall":0.65,"precision":0.13},{"run":"noun","recall":0.7,"precision":0.08},{"run":"noun","recall":0.74,"precision":0.03},{"run":"noun","recall":0.78,"precision":0},{"run":"noun","recall":1,"precision":0},
      {"run":"np","recall":0,"precision":1},{"run":"np","recall":0.03,"precision":0.92},{"run":"np","recall":0.05,"precision":0.85},{"run":"np","recall":0.07,"precision":0.7},{"run":"np","recall":0.08,"precision":0.6},{"run":"np","recall":0.1,"precision":0.5},{"run":"np","recall":0.2,"precision":0.45},{"run":"np","recall":0.22,"precision":0.4},{"run":"np","recall":0.28,"precision":0.35},{"run":"np","recall":0.3,"precision":0.28},{"run":"np","recall":0.35,"precision":0.24},{"run":"np","recall":0.4,"precision":0.2},{"run":"np","recall":0.47,"precision":0.16},{"run":"np","recall":0.53,"precision":0.14},{"run":"np","recall":0.6,"precision":0.1},{"run":"np","recall":0.66,"precision":0.05},{"run":"np","recall":0.71,"precision":0},{"run":"np","recall":1,"precision":0}
    ],
    "d25": [
      {"run":"pronoun","recall":0,"precision":1},{"run":"pronoun","recall":0.03,"precision":0.9},{"run":"pronoun","recall":0.05,"precision":0.83},{"run":"pronoun","recall":0.13,"precision":0.8},{"run":"pronoun","recall":0.15,"precision":0.68},{"run":"pronoun","recall":0.22,"precision":0.65},{"run":"pronoun","recall":0.25,"precision":0.62},{"run":"pronoun","recall":0.28,"precision":0.58},{"run":"pronoun","recall":0.3,"precision":0.52},{"run":"pronoun","recall":0.33,"precision":0.47},{"run":"pronoun","recall":0.37,"precision":0.42},{"run":"pronoun","recall":0.4,"precision":0.35},{"run":"pronoun","recall":0.42,"precision":0.3},{"run":"pronoun","recall":0.45,"precision":0.25},{"run":"pronoun","recall":0.48,"precision":0.2},{"run":"pronoun","recall":0.53,"precision":0.17},{"run":"pronoun","recall":0.58,"precision":0.14},{"run":"pronoun","recall":0.62,"precision":0.11},{"run":"pronoun","recall":0.67,"precision":0.1},{"run":"pronoun","recall":0.72,"precision":0.06},{"run":"pronoun","recall":0.77,"precision":0.02},{"run":"pronoun","recall":0.8,"precision":0},{"run":"pronoun","recall":1,"precision":0},
      {"run":"noun","recall":0,"precision":1},{"run":"noun","recall":0.08,"precision":0.95},{"run":"noun","recall":0.1,"precision":0.88},{"run":"noun","recall":0.12,"precision":0.85},{"run":"noun","recall":0.2,"precision":0.8},{"run":"noun","recall":0.22,"precision":0.75},{"run":"noun","recall":0.25,"precision":0.68},{"run":"noun","recall":0.28,"precision":0.6},{"run":"noun","recall":0.3,"precision":0.48},{"run":"noun","recall":0.32,"precision":0.45},{"run":"noun","recall":0.36,"precision":0.42},{"run":"noun","recall":0.4,"precision":0.4},{"run":"noun","recall":0.45,"precision":0.35},{"run":"noun","recall":0.5,"precision":0.27},{"run":"noun","recall":0.55,"precision":0.2},{"run":"noun","recall":0.6,"precision":0.14},{"run":"noun","recall":0.65,"precision":0.08},{"run":"noun","recall":0.7,"precision":0.03},{"run":"noun","recall":0.77,"precision":0},{"run":"noun","recall":1,"precision":0},
      {"run":"np","recall":0,"precision":1},{"run":"np","recall":0.03,"precision":0.9},{"run":"np","recall":0.12,"precision":0.85},{"run":"np","recall":0.14,"precision":0.82},{"run":"np","recall":0.2,"precision":0.78},{"run":"np","recall":0.22,"precision":0.72},{"run":"np","recall":0.25,"precision":0.65},{"run":"np","recall":0.28,"precision":0.6},{"run":"np","recall":0.3,"precision":0.52},{"run":"np","recall":0.33,"precision":0.45},{"run":"np","recall":0.37,"precision":0.4},{"run":"np","recall":0.42,"precision":0.35},{"run":"np","recall":0.47,"precision":0.29},{"run":"np","recall":0.52,"precision":0.23},{"run":"np","recall":0.57,"precision":0.17},{"run":"np","recall":0.62,"precision":0.11},{"run":"np","recall":0.67,"precision":0.06},{"run":"np","recall":0.72,"precision":0.02},{"run":"np","recall":0.8,"precision":0},{"run":"np","recall":1,"precision":0}
    ],
    "d26": [
      {"run":"pronoun","recall":0,"precision":1},{"run":"pronoun","recall":0.04,"precision":0.8},{"run":"pronoun","recall":0.05,"precision":0.75},{"run":"pronoun","recall":0.08,"precision":0.7},{"run":"pronoun","recall":0.12,"precision":0.6},{"run":"pronoun","recall":0.16,"precision":0.52},{"run":"pronoun","recall":0.18,"precision":0.45},{"run":"pronoun","recall":0.2,"precision":0.42},{"run":"pronoun","recall":0.23,"precision":0.38},{"run":"pronoun","recall":0.26,"precision":0.34},{"run":"pronoun","recall":0.35,"precision":0.32},{"run":"pronoun","recall":0.4,"precision":0.3},{"run":"pronoun","recall":0.45,"precision":0.24},{"run":"pronoun","recall":0.5,"precision":0.2},{"run":"pronoun","recall":0.55,"precision":0.16},{"run":"pronoun","recall":0.6,"precision":0.12},{"run":"pronoun","recall":0.65,"precision":0.07},{"run":"pronoun","recall":0.7,"precision":0.03},{"run":"pronoun","recall":0.72,"precision":0},{"run":"pronoun","recall":1,"precision":0},
      {"run":"noun","recall":0,"precision":1},{"run":"noun","recall":0.04,"precision":0.95},{"run":"noun","recall":0.07,"precision":0.75},{"run":"noun","recall":0.1,"precision":0.65},{"run":"noun","recall":0.13,"precision":0.55},{"run":"noun","recall":0.17,"precision":0.45},{"run":"noun","recall":0.2,"precision":0.4},{"run":"noun","recall":0.23,"precision":0.34},{"run":"noun","recall":0.26,"precision":0.32},{"run":"noun","recall":0.4,"precision":0.3},{"run":"noun","recall":0.45,"precision":0.26},{"run":"noun","recall":0.5,"precision":0.22},{"run":"noun","recall":0.55,"precision":0.17},{"run":"noun","recall":0.6,"precision":0.14},{"run":"noun","recall":0.65,"precision":0.11},{"run":"noun","recall":0.7,"precision":0.07},{"run":"noun","recall":0.72,"precision":0.04},{"run":"noun","recall":0.75,"precision":0},{"run":"noun","recall":1,"precision":0},
      {"run":"np","recall":0,"precision":1},{"run":"np","recall":0.07,"precision":0.95},{"run":"np","recall":0.08,"precision":0.88},{"run":"np","recall":0.13,"precision":0.75},{"run":"np","recall":0.17,"precision":0.55},{"run":"np","recall":0.2,"precision":0.45},{"run":"np","recall":0.23,"precision":0.4},{"run":"np","recall":0.27,"precision":0.35},{"run":"np","recall":0.3,"precision":0.33},{"run":"np","recall":0.35,"precision":0.3},{"run":"np","recall":0.4,"precision":0.27},{"run":"np","recall":0.45,"precision":0.22},{"run":"np","recall":0.5,"precision":0.18},{"run":"np","recall":0.55,"precision":0.13},{"run":"np","recall":0.6,"precision":0.08},{"run":"np","recall":0.64,"precision":0.03},{"run":"np","recall":0.69,"precision":0},{"run":"np","recall":1,"precision":0}
    ],
    "d27": [
      {"run":"pronoun","recall":0,"precision":1},{"run":"pronoun","recall":0.03,"precision":0.37},{"run":"pronoun","recall":0.09,"precision":0.2},{"run":"pronoun","recall":0.28,"precision":0.11},{"run":"pronoun","recall":0.43,"precision":0.05},{"run":"pronoun","recall":0.47,"precision":0.03},{"run":"pronoun","recall":0.5,"precision":0},{"run":"pronoun","recall":1,"precision":0},
      {"run":"noun","recall":0,"precision":1},{"run":"noun","recall":0.03,"precision":0.37},{"run":"noun","recall":0.12,"precision":0.15},{"run":"noun","recall":0.15,"precision":0.14},{"run":"noun","recall":0.21,"precision":0.12},{"run":"noun","recall":0.3,"precision":0.1},{"run":"noun","recall":0.45,"precision":0.08},{"run":"noun","recall":0.5,"precision":0.06},{"run":"noun","recall":0.58,"precision":0},{"run":"noun","recall":1,"precision":0},
      {"run":"np","recall":0,"precision":1},{"run":"np","recall":0.03,"precision":0.31},{"run":"np","recall":0.12,"precision":0.18},{"run":"np","recall":0.27,"precision":0.09},{"run":"np","recall":0.45,"precision":0.05},{"run":"np","recall":0.53,"precision":0},{"run":"np","recall":1,"precision":0}
    ],
    "d28": [
      {"run":"pronoun","recall":0,"precision":0.25},{"run":"pronoun","recall":0.01,"precision":0.21},{"run":"pronoun","recall":0.3,"precision":0.18},{"run":"pronoun","recall":0.35,"precision":0.14},{"run":"pronoun","recall":0.4,"precision":0.11},{"run":"pronoun","recall":0.45,"precision":0.1},{"run":"pronoun","recall":0.52,"precision":0.08},{"run":"pronoun","recall":0.62,"precision":0.06},{"run":"pronoun","recall":0.76,"precision":0},{"run":"pronoun","recall":1,"precision":0},
      {"run":"noun","recall":0,"precision":1},{"run":"noun","recall":0.13,"precision":0.9},{"run":"noun","recall":0.22,"precision":0.62},{"run":"noun","recall":0.33,"precision":0.48},{"run":"noun","recall":0.45,"precision":0.42},{"run":"noun","recall":0.5,"precision":0.25},{"run":"noun","recall":0.53,"precision":0.2},{"run":"noun","recall":0.56,"precision":0.18},{"run":"noun","recall":0.75,"precision":0.15},{"run":"noun","recall":0.78,"precision":0.12},{"run":"noun","recall":0.86,"precision":0},{"run":"noun","recall":1,"precision":0},
      {"run":"np","recall":0,"precision":0.31},{"run":"np","recall":0.22,"precision":0.13},{"run":"np","recall":0.45,"precision":0.09},{"run":"np","recall":0.6,"precision":0.07},{"run":"np","recall":0.72,"precision":0.04},{"run":"np","recall":0.75,"precision":0},{"run":"np","recall":1,"precision":0}
    ],
    "d29": [
      {"run":"pronoun","recall":0,"precision":1},{"run":"pronoun","recall":0.06,"precision":0.75},{"run":"pronoun","recall":0.09,"precision":0.67},{"run":"pronoun","recall":0.12,"precision":0.26},{"run":"pronoun","recall":0.45,"precision":0.18},{"run":"pronoun","recall":0.52,"precision":0.15},{"run":"pronoun","recall":0.57,"precision":0.09},{"run":"pronoun","recall":0.66,"precision":0.03},{"run":"pronoun","recall":0.72,"precision":0},{"run":"pronoun","recall":1,"precision":0},
      {"run":"noun","recall":0,"precision":1},{"run":"noun","recall":0.13,"precision":0.75},{"run":"noun","recall":0.2,"precision":0.73},{"run":"noun","recall":0.25,"precision":0.7},{"run":"noun","recall":0.27,"precision":0.42},{"run":"noun","recall":0.29,"precision":0.37},{"run":"noun","recall":0.37,"precision":0.31},{"run":"noun","recall":0.46,"precision":0.27},{"run":"noun","recall":0.55,"precision":0.22},{"run":"noun","recall":0.6,"precision":0.15},{"run":"noun","recall":0.7,"precision":0.05},{"run":"noun","recall":0.75,"precision":0},{"run":"noun","recall":1,"precision":0},
      {"run":"np","recall":0,"precision":1},{"run":"np","recall":0.13,"precision":0.84},{"run":"np","recall":0.15,"precision":0.5},{"run":"np","recall":0.18,"precision":0.45},{"run":"np","recall":0.24,"precision":0.35},{"run":"np","recall":0.27,"precision":0.3},{"run":"np","recall":0.43,"precision":0.2},{"run":"np","recall":0.46,"precision":0.12},{"run":"np","recall":0.5,"precision":0.08},{"run":"np","recall":0.55,"precision":0.05},{"run":"np","recall":0.6,"precision":0.02},{"run":"np","recall":0.65,"precision":0},{"run":"np","recall":1,"precision":0}
    ],
    "d30": [
      {"run":"pronoun","recall":0,"precision":1},{"run":"pronoun","recall":0.01,"precision":0.78},{"run":"pronoun","recall":0.13,"precision":0.73},{"run":"pronoun","recall":0.15,"precision":0.6},{"run":"pronoun","recall":0.18,"precision":0.5},{"run":"pronoun","recall":0.2,"precision":0.4},{"run":"pronoun","recall":0.22,"precision":0.34},{"run":"pronoun","recall":0.3,"precision":0.32},{"run":"pronoun","recall":0.4,"precision":0.3},{"run":"pronoun","recall":0.42,"precision":0.2},{"run":"pronoun","recall":0.45,"precision":0.15},{"run":"pronoun","recall":0.5,"precision":0.12},{"run":"pronoun","recall":0.6,"precision":0.1},{"run":"pronoun","recall":0.65,"precision":0},{"run":"pronoun","recall":1,"precision":0},
      {"run":"noun","recall":0,"precision":0.84},{"run":"noun","recall":0.05,"precision":0.8},{"run":"noun","recall":0.18,"precision":0.75},{"run":"noun","recall":0.3,"precision":0.7},{"run":"noun","recall":0.36,"precision":0.35},{"run":"noun","recall":0.38,"precision":0.3},{"run":"noun","recall":0.4,"precision":0.25},{"run":"noun","recall":0.43,"precision":0.2},{"run":"noun","recall":0.45,"precision":0.16},{"run":"noun","recall":0.5,"precision":0.14},{"run":"noun","recall":0.55,"precision":0.12},{"run":"noun","recall":0.6,"precision":0.07},{"run":"noun","recall":0.66,"precision":0},{"run":"noun","recall":1,"precision":0},
      {"run":"np","recall":0,"precision":1},{"run":"np","recall":0.04,"precision":0.8},{"run":"np","recall":0.19,"precision":0.7},{"run":"np","recall":0.21,"precision":0.5},{"run":"np","recall":0.23,"precision":0.38},{"run":"np","recall":0.25,"precision":0.3},{"run":"np","recall":0.27,"precision":0.22},{"run":"np","recall":0.3,"precision":0.16},{"run":"np","recall":0.33,"precision":0.13},{"run":"np","recall":0.57,"precision":0.1},{"run":"np","recall":0.72,"precision":0},{"run":"np","recall":1,"precision":0}
    ],
    "d31": [
      {"run":"pronoun","recall":0,"precision":1},{"run":"pronoun","recall":0.12,"precision":0.8},{"run":"pronoun","recall":0.15,"precision":0.72},{"run":"pronoun","recall":0.2,"precision":0.69},{"run":"pronoun","recall":0.33,"precision":0.55},{"run":"pronoun","recall":0.35,"precision":0.32},{"run":"pronoun","recall":0.4,"precision":0.28},{"run":"pronoun","recall":0.42,"precision":0.18},{"run":"pronoun","recall":0.45,"precision":0.16},{"run":"pronoun","recall":0.52,"precision":0.14},{"run":"pronoun","recall":0.58,"precision":0.12},{"run":"pronoun","recall":0.63,"precision":0},{"run":"pronoun","recall":1,"precision":0},
      {"run":"noun","recall":0,"precision":1},{"run":"noun","recall":0.04,"precision":0.75},{"run":"noun","recall":0.05,"precision":0.44},{"run":"noun","recall":0.18,"precision":0.35},{"run":"noun","recall":0.2,"precision":0.25},{"run":"noun","recall":0.22,"precision":0.15},{"run":"noun","recall":0.3,"precision":0.12},{"run":"noun","recall":0.38,"precision":0.1},{"run":"noun","recall":0.41,"precision":0.08},{"run":"noun","recall":0.68,"precision":0},{"run":"noun","recall":1,"precision":0},
      {"run":"np","recall":0,"precision":1},{"run":"np","recall":0.02,"precision":0.75},{"run":"np","recall":0.06,"precision":0.58},{"run":"np","recall":0.12,"precision":0.55},{"run":"np","recall":0.2,"precision":0.5},{"run":"np","recall":0.22,"precision":0.48},{"run":"np","recall":0.32,"precision":0.45},{"run":"np","recall":0.34,"precision":0.35},{"run":"np","recall":0.36,"precision":0.25},{"run":"np","recall":0.38,"precision":0.12},{"run":"np","recall":0.42,"precision":0.08},{"run":"np","recall":0.55,"precision":0},{"run":"np","recall":1,"precision":0}
    ],
    "d32": [
      {"run":"pronoun","recall":0,"precision":0.065},{"run":"pronoun","recall":0.45,"precision":0.05},{"run":"pronoun","recall":0.63,"precision":0},{"run":"pronoun","recall":1,"precision":0},
      {"run":"noun","recall":0,"precision":1},{"run":"noun","recall":0.1,"precision":0.667},{"run":"noun","recall":0.19,"precision":0.6},{"run":"noun","recall":0.53,"precision":0.25},{"run":"noun","recall":0.63,"precision":0},{"run":"noun","recall":1,"precision":0},
      {"run":"np","recall":0,"precision":0.05},{"run":"np","recall":0.25,"precision":0.04},{"run":"np","recall":0.45,"precision":0},{"run":"np","recall":1,"precision":0}
    ]
  },
  "concat": [
    {"title": {"text": ["Task: get potatoes out of fire.", "Category: knife. Evaluation Type: Box"]}, "data": {"name": "d01"}, "mark": "line",
     "encoding": {"x": {"field": "recall", "type": "quantitative", "title": "Recall", "scale": {"domain": [-0.05, 1.05]}}, "y": {"field": "precision", "type": "quantitative", "title": "Precision", "scale": {"domain": [-0.05, 1.05]}},
      "color": {"field": "run", "type": "nominal", "title": null, "scale": {"domain": ["pronoun", "noun", "np"]}, "legend": {"labelExpr": "datum.value == 'pronoun' ? 'pronoun input. AP@0.5: 25.76%' : datum.value == 'noun' ? 'noun input.\u00a0\u00a0\u00a0\u00a0\u00a0\u00a0\u00a0\u00a0\u00a0\u00a0\u00a0\u00a0AP@0.5: 23.54%' : 'n-p distillation. AP@0.5: 26.26%'"}}}},
    {"title": {"text": ["Task: get potatoes out of fire.", "Category: bottle. Evaluation Type: Box"]}, "data": {"name": "d02"}, "mark": "line",
     "encoding": {"x": {"field": "recall", "type": "quantitative", "title": "Recall", "scale": {"domain": [-0.05, 1.05]}}, "y": {"field": "precision", "type": "quantitative", "title": "Precision", "scale": {"domain": [-0.05, 1.05]}},
      "color": {"field": "run", "type": "nominal", "title": null, "scale": {"domain": ["pronoun", "noun", "np"]}, "legend": {"labelExpr": "datum.value == 'pronoun' ? 'pronoun input. AP@0.5: 21.45%' : datum.value == 'noun' ? 'noun input.\u00a0\u00a0\u00a0\u00a0\u00a0\u00a0\u00a0\u00a0\u00a0\u00a0\u00a0\u00a0AP@0.5: 28.98%' : 'n-p distillation. AP@0.5: 23.78%'"}}}},
    {"title": {"text": ["Task: get potatoes out of fire.", "Category: cup. Evaluation Type: Box"]}, "data": {"name": "d03"}, "mark": "line",
     "encoding": {"x": {"field": "recall", "type": "quantitative", "title": "Recall", "scale": {"domain": [-0.05, 1.05]}}, "y": {"field": "precision", "type": "quantitative", "title": "Precision", "scale": {"domain": [-0.05, 1.05]}},
      "color": {"field": "run", "type": "nominal", "title": null, "scale": {"domain": ["pronoun", "noun", "np"]}, "legend": {"labelExpr": "datum.value == 'pronoun' ? 'pronoun input. AP@0.5: 17.56%' : datum.value == 'noun' ? 'noun input.\u00a0\u00a0\u00a0\u00a0\u00a0\u00a0\u00a0\u00a0\u00a0\u00a0\u00a0\u00a0AP@0.5: 43.74%' : 'n-p distillation. AP@0.5: 17.52%'"}}}},
    {"title": {"text": ["Task: get potatoes out of fire.", "Category: umbrella. Evaluation Type: Box"]}, "data": {"name": "d04"}, "mark": "line",
     "encoding": {"x": {"field": "recall", "type": "quantitative", "title": "Recall", "scale": {"domain": [-0.05, 1.05]}}, "y": {"field": "precision", "type": "quantitative", "title": "Precision", "scale": {"domain": [-0.05, 1.05]}},
      "color": {"field": "run", "type": "nominal", "title": null, "scale": {"domain": ["pronoun", "noun", "np"]}, "legend": {"labelExpr": "datum.value == 'pronoun' ? 'pronoun input. AP@0.5: 33.69%' : datum.value == 'noun' ? 'noun input.\u00a0\u00a0\u00a0\u00a0\u00a0\u00a0\u00a0\u00a0\u00a0\u00a0\u00a0\u00a0AP@0.5: 33.85%' : 'n-p distillation. AP@0.5: 33.63%'"}}}},
    {"title": {"text": ["Task: get potatoes out of fire.", "Category: bowl. Evaluation Type: Box"]}, "data": {"name": "d05"}, "mark": "line",
     "encoding": {"x": {"field": "recall", "type": "quantitative", "title": "Recall", "scale": {"domain": [-0.05, 1.05]}}, "y": {"field": "precision", "type": "quantitative", "title": "Precision", "scale": {"domain": [-0.05, 1.05]}},
      "color": {"field": "run", "type": "nominal", "title": null, "scale": {"domain": ["pronoun", "noun", "np"]}, "legend": {"labelExpr": "datum.value == 'pronoun' ? 'pronoun input. AP@0.5: 59.93%' : datum.value == 'noun' ? 'noun input.\u00a0\u00a0\u00a0\u00a0\u00a0\u00a0\u00a0\u00a0\u00a0\u00a0\u00a0\u00a0AP@0.5: 47.18%' : 'n-p distillation. AP@0.5: 54.83%'"}}}},
    {"title": {"text": ["Task: get potatoes out of fire.", "Category: toothbrush. Evaluation Type: Box"]}, "data": {"name": "d06"}, "mark": "line",
     "encoding": {"x": {"field": "recall", "type": "quantitative", "title": "Recall", "scale": {"domain": [-0.05, 1.05]}}, "y": {"field": "precision", "type": "quantitative", "title": "Precision", "scale": {"domain": [-0.0333, 0.7]}, "axis": {"tickCount": 8}},
      "color": {"field": "run", "type": "nominal", "title": null, "scale": {"domain": ["pronoun", "noun", "np"]}, "legend": {"labelExpr": "datum.value == 'pronoun' ? 'pronoun input. AP@0.5: 39.93%' : datum.value == 'noun' ? 'noun input.\u00a0\u00a0\u00a0\u00a0\u00a0\u00a0\u00a0\u00a0\u00a0\u00a0\u00a0\u00a0AP@0.5: 44.79%' : 'n-p distillation. AP@0.5: 35.75%'"}}}},
    {"title": {"text": ["Task: get potatoes out of fire.", "Category: wine glass. Evaluation Type: Box"]}, "data": {"name": "d07"}, "mark": "line",
     "encoding": {"x": {"field": "recall", "type": "quantitative", "title": "Recall", "scale": {"domain": [-0.05, 1.05]}}, "y": {"field": "precision", "type": "quantitative", "title": "Precision", "scale": {"domain": [-0.05, 1.05]}},
      "color": {"field": "run", "type": "nominal", "title": null, "scale": {"domain": ["pronoun", "noun", "np"]}, "legend": {"labelExpr": "datum.value == 'pronoun' ? 'pronoun input. AP@0.5: 56.77%' : datum.value == 'noun' ? 'noun input.\u00a0\u00a0\u00a0\u00a0\u00a0\u00a0\u00a0\u00a0\u00a0\u00a0\u00a0\u00a0AP@0.5: 71.17%' : 'n-p distillation. AP@0.5: 64.03%'"}}}},
    {"title": {"text": ["Task: get potatoes out of fire.", "Category: vase. Evaluation Type: Box"]}, "data": {"name": "d08"}, "mark": "line",
     "encoding": {"x": {"field": "recall", "type": "quantitative", "title": "Recall", "scale": {"domain": [-0.05, 1.05]}}, "y": {"field": "precision", "type": "quantitative", "title": "Precision", "scale": {"domain": [0.039, 1.046]}},
      "color": {"field": "run", "type": "nominal", "title": null, "scale": {"domain": ["pronoun", "noun", "np"]}, "legend": {"labelExpr": "datum.value == 'pronoun' ? 'pronoun input. AP@0.5: 66.27%' : datum.value == 'noun' ? 'noun input.\u00a0\u00a0\u00a0\u00a0\u00a0\u00a0\u00a0\u00a0\u00a0\u00a0\u00a0\u00a0AP@0.5: 55.54%' : 'n-p distillation. AP@0.5: 71.83%'"}}}},
    {"title": {"text": ["Task: get potatoes out of fire.", "Category: book. Evaluation Type: Box"]}, "data": {"name": "d09"}, "mark": "line",
     "encoding": {"x": {"field": "recall", "type": "quantitative", "title": "Recall", "scale": {"domain": [-0.05, 1.05]}}, "y": {"field": "precision", "type": "quantitative", "title": "Precision", "scale": {"domain": [-0.05, 1.05]}},
      "color": {"field": "run", "type": "nominal", "title": null, "scale": {"domain": ["pronoun", "noun", "np"]}, "legend": {"labelExpr": "datum.value == 'pronoun' ? 'pronoun input. AP@0.5: 36.21%' : datum.value == 'noun' ? 'noun input.\u00a0\u00a0\u00a0\u00a0\u00a0\u00a0\u00a0\u00a0\u00a0\u00a0\u00a0\u00a0AP@0.5: 35.50%' : 'n-p distillation. AP@0.5: 26.98%'"}}}},
    {"title": {"text": ["Task: get potatoes out of fire.", "Category: scissors. Evaluation Type: Box"]}, "data": {"name": "d10"}, "mark": "line",
     "encoding": {"x": {"field": "recall", "type": "quantitative", "title": "Recall", "scale": {"domain": [-0.05, 1.05]}}, "y": {"field": "precision", "type": "quantitative", "title": "Precision", "scale": {"domain": [-0.05, 1.05]}},
      "color": {"field": "run", "type": "nominal", "title": null, "scale": {"domain": ["pronoun", "noun", "np"]}, "legend": {"labelExpr": "datum.value == 'pronoun' ? 'pronoun input. AP@0.5: 68.37%' : datum.value == 'noun' ? 'noun input.\u00a0\u00a0\u00a0\u00a0\u00a0\u00a0\u00a0\u00a0\u00a0\u00a0\u00a0\u00a0AP@0.5: 56.68%' : 'n-p distillation. AP@0.5: 72.47%'"}}}},
    {"title": {"text": ["Task: get potatoes out of fire.", "Category: kite. Evaluation Type: Box"]}, "data": {"name": "d11"}, "mark": "line",
     "encoding": {"x": {"field": "recall", "type": "quantitative", "title": "Recall", "scale": {"domain": [-0.05, 1.05]}}, "y": {"field": "precision", "type": "quantitative", "title": "Precision", "scale": {"domain": [-0.00143, 0.03]}, "axis": {"tickCount": 7, "format": ".3f"}},
      "color": {"field": "run", "type": "nominal", "title": null, "scale": {"domain": ["pronoun", "noun", "np"]}, "legend": {"labelExpr": "datum.value == 'pronoun' ? 'pronoun input. AP@0.5: 0.00%' : datum.value == 'noun' ? 'noun input.\u00a0\u00a0\u00a0\u00a0\u00a0\u00a0\u00a0\u00a0\u00a0\u00a0\u00a0\u00a0AP@0.5: 1.64%' : 'n-p distillation. AP@0.5: 2.86%'"}}}},
    {"title": {"text": ["Task: get potatoes out of fire.", "Category: banana. Evaluation Type: Box"]}, "data": {"name": "d12"}, "mark": "line",
     "encoding": {"x": {"field": "recall", "type": "quantitative", "title": "Recall", "scale": {"domain": [-0.05, 1.05]}}, "y": {"field": "precision", "type": "quantitative", "title": "Precision", "scale": {"domain": [0.008, 1.047]}},
      "color": {"field": "run", "type": "nominal", "title": null, "scale": {"domain": ["pronoun", "noun", "np"]}, "legend": {"labelExpr": "datum.value == 'pronoun' ? 'pronoun input. AP@0.5: 51.98%' : datum.value == 'noun' ? 'noun input.\u00a0\u00a0\u00a0\u00a0\u00a0\u00a0\u00a0\u00a0\u00a0\u00a0\u00a0\u00a0AP@0.5: 54.65%' : 'n-p distillation. AP@0.5: 57.28%'"}}}},
    {"title": {"text": ["Task: get potatoes out of fire.", "Category: boat. Evaluation Type: Box"]}, "data": {"name": "d13"}, "mark": "line",
     "encoding": {"x": {"field": "recall", "type": "quantitative", "title": "Recall", "scale": {"domain": [-0.05, 1.05]}}, "y": {"field": "precision", "type": "quantitative", "title": "Precision", "scale": {"domain": [-0.05, 1.05]}},
      "color": {"field": "run", "type": "nominal", "title": null, "scale": {"domain": ["pronoun", "noun", "np"]}, "legend": {"labelExpr": "datum.value == 'pronoun' ? 'pronoun input. AP@0.5: 57.57%' : datum.value == 'noun' ? 'noun input.\u00a0\u00a0\u00a0\u00a0\u00a0\u00a0\u00a0\u00a0\u00a0\u00a0\u00a0\u00a0AP@0.5: 3.88%' : 'n-p distillation. AP@0.5: 19.70%'"}}}},
    {"title": {"text": ["Task: get potatoes out of fire.", "Category: laptop. Evaluation Type: Box"]}, "data": {"name": "d14"}, "mark": "line",
     "encoding": {"x": {"field": "recall", "type": "quantitative", "title": "Recall", "scale": {"domain": [-0.05, 1.05]}}, "y": {"field": "precision", "type": "quantitative", "title": "Precision", "scale": {"domain": [0.945, 1.055]}, "axis": {"format": ".2f"}},
      "color": {"field": "run", "type": "nominal", "title": null, "scale": {"domain": ["pronoun", "noun", "np"]}, "legend": {"labelExpr": "datum.value == 'pronoun' ? 'pronoun input. AP@0.5: 100.00%' : datum.value == 'noun' ? 'noun input.\u00a0\u00a0\u00a0\u00a0\u00a0\u00a0\u00a0\u00a0\u00a0\u00a0\u00a0\u00a0AP@0.5: 100.00%' : 'n-p distillation. AP@0.5: 100.00%'"}}}},
    {"title": {"text": ["Task: get potatoes out of fire.", "Category: keyboard. Evaluation Type: Box"]}, "data": {"name": "d15"}, "mark": "line",
     "encoding": {"x": {"field": "recall", "type": "quantitative", "title": "Recall", "scale": {"domain": [-0.05, 1.05]}}, "y": {"field": "precision", "type": "quantitative", "title": "Precision", "scale": {"domain": [-0.0356, 1.0493]}},
      "color": {"field": "run", "type": "nominal", "title": null, "scale": {"domain": ["pronoun", "noun", "np"]}, "legend": {"labelExpr": "datum.value == 'pronoun' ? 'pronoun input. AP@0.5: 1.69%' : datum.value == 'noun' ? 'noun input.\u00a0\u00a0\u00a0\u00a0\u00a0\u00a0\u00a0\u00a0\u00a0\u00a0\u00a0\u00a0AP@0.5: 100.00%' : 'n-p distillation. AP@0.5: 1.37%'"}}}},
    {"title": {"text": ["Task: water plant.", "Category: cup. Evaluation Type: Box"]}, "data": {"name": "d16"}, "mark": "line",
     "encoding": {"x": {"field": "recall", "type": "quantitative", "title": "Recall", "scale": {"domain": [-0.05, 1.05]}}, "y": {"field": "precision", "type": "quantitative", "title": "Precision", "scale": {"domain": [-0.05, 1.05]}},
      "color": {"field": "run", "type": "nominal", "title": null, "scale": {"domain": ["pronoun", "noun", "np"]}, "legend": {"labelExpr": "datum.value == 'pronoun' ? 'pronoun input. AP@0.5: 71.33%' : datum.value == 'noun' ? 'noun input.\u00a0\u00a0\u00a0\u00a0\u00a0\u00a0\u00a0\u00a0\u00a0\u00a0\u00a0\u00a0AP@0.5: 76.35%' : 'n-p distillation. AP@0.5: 72.27%'"}}}},
    {"title": {"text": ["Task: water plant.", "Category: bottle. Evaluation Type: Box"]}, "data": {"name": "d17"}, "mark": "line",
     "encoding": {"x": {"field": "recall", "type": "quantitative", "title": "Recall", "scale": {"domain": [-0.05, 1.05]}}, "y": {"field": "precision", "type": "quantitative", "title": "Precision", "scale": {"domain": [-0.05, 1.05]}},
      "color": {"field": "run", "type": "nominal", "title": null, "scale": {"domain": ["pronoun", "noun", "np"]}, "legend": {"labelExpr": "datum.value == 'pronoun' ? 'pronoun input. AP@0.5: 40.86%' : datum.value == 'noun' ? 'noun input.\u00a0\u00a0\u00a0\u00a0\u00a0\u00a0\u00a0\u00a0\u00a0\u00a0\u00a0\u00a0AP@0.5: 44.38%' : 'n-p distillation. AP@0.5: 42.37%'"}}}},
    {"title": {"text": ["Task: water plant.", "Category: bowl. Evaluation Type: Box"]}, "data": {"name": "d18"}, "mark": "line",
     "encoding": {"x": {"field": "recall", "type": "quantitative", "title": "Recall", "scale": {"domain": [-0.05, 1.05]}}, "y": {"field": "precision", "type": "quantitative", "title": "Precision", "scale": {"domain": [-0.05, 1.05]}},
      "color": {"field": "run", "type": "nominal", "title": null, "scale": {"domain": ["pronoun", "noun", "np"]}, "legend": {"labelExpr": "datum.value == 'pronoun' ? 'pronoun input. AP@0.5: 62.43%' : datum.value == 'noun' ? 'noun input.\u00a0\u00a0\u00a0\u00a0\u00a0\u00a0\u00a0\u00a0\u00a0\u00a0\u00a0\u00a0AP@0.5: 68.38%' : 'n-p distillation. AP@0.5: 59.66%'"}}}},
    {"title": {"text": ["Task: water plant.", "Category: vase. Evaluation Type: Box"]}, "data": {"name": "d19"}, "mark": "line",
     "encoding": {"x": {"field": "recall", "type": "quantitative", "title": "Recall", "scale": {"domain": [-0.05, 1.05]}}, "y": {"field": "precision", "type": "quantitative", "title": "Precision", "scale": {"domain": [-0.05, 1.05]}},
      "color": {"field": "run", "type": "nominal", "title": null, "scale": {"domain": ["pronoun", "noun", "np"]}, "legend": {"labelExpr": "datum.value == 'pronoun' ? 'pronoun input. AP@0.5: 68.73%' : datum.value == 'noun' ? 'noun input.\u00a0\u00a0\u00a0\u00a0\u00a0\u00a0\u00a0\u00a0\u00a0\u00a0\u00a0\u00a0AP@0.5: 68.85%' : 'n-p distillation. AP@0.5: 72.10%'"}}}},
    {"title": {"text": ["Task: water plant.", "Category: wine glass. Evaluation Type: Box"]}, "data": {"name": "d20"}, "mark": "line",
     "encoding": {"x": {"field": "recall", "type": "quantitative", "title": "Recall", "scale": {"domain": [-0.05, 1.05]}}, "y": {"field": "precision", "type": "quantitative", "title": "Precision", "scale": {"domain": [-0.05, 1.05]}},
      "color": {"field": "run", "type": "nominal", "title": null, "scale": {"domain": ["pronoun", "noun", "np"]}, "legend": {"labelExpr": "datum.value == 'pronoun' ? 'pronoun input. AP@0.5: 85.03%' : datum.value == 'noun' ? 'noun input.\u00a0\u00a0\u00a0\u00a0\u00a0\u00a0\u00a0\u00a0\u00a0\u00a0\u00a0\u00a0AP@0.5: 81.28%' : 'n-p distillation. AP@0.5: 85.88%'"}}}},
    {"title": {"text": ["Task: water plant.", "Category: cell phone. Evaluation Type: Box"]}, "data": {"name": "d21"}, "mark": "line",
     "encoding": {"x": {"field": "recall", "type": "quantitative", "title": "Recall", "scale": {"domain": [-0.05, 1.05]}}, "y": {"field": "precision", "type": "quantitative", "title": "Precision", "scale": {"domain": [-0.05, 1.05]}},
      "color": {"field": "run", "type": "nominal", "title": null, "scale": {"domain": ["pronoun", "noun", "np"]}, "legend": {"labelExpr": "datum.value == 'pronoun' ? 'pronoun input. AP@0.5: 100.00%' : datum.value == 'noun' ? 'noun input.\u00a0\u00a0\u00a0\u00a0\u00a0\u00a0\u00a0\u00a0\u00a0\u00a0\u00a0\u00a0AP@0.5: 0.00%' : 'n-p distillation. AP@0.5: 100.00%'"}}}},
    {"title": {"text": ["Task: water plant.", "Category: carrot. Evaluation Type: Box"]}, "data": {"name": "d22"}, "mark": "line",
     "encoding": {"x": {"field": "recall", "type": "quantitative", "title": "Recall", "scale": {"domain": [-0.05, 1.05]}}, "y": {"field": "precision", "type": "quantitative", "title": "Precision", "scale": {"domain": [-0.05, 1.05]}},
      "color": {"field": "run", "type": "nominal", "title": null, "scale": {"domain": ["pronoun", "noun", "np"]}, "legend": {"labelExpr": "datum.value == 'pronoun' ? 'pronoun input. AP@0.5: 13.63%' : datum.value == 'noun' ? 'noun input.\u00a0\u00a0\u00a0\u00a0\u00a0\u00a0\u00a0\u00a0\u00a0\u00a0\u00a0\u00a0AP@0.5: 2.93%' : 'n-p distillation. AP@0.5: 2.20%'"}}}},
    {"title": {"text": ["Task: get lemon out of tea.", "Category: fork. Evaluation Type: Box"]}, "data": {"name": "d23"}, "mark": "line",
     "encoding": {"x": {"field": "recall", "type": "quantitative", "title": "Recall", "scale": {"domain": [-0.05, 1.05]}}, "y": {"field": "precision", "type": "quantitative", "title": "Precision", "scale": {"domain": [-0.05, 1.05]}},
      "color": {"field": "run", "type": "nominal", "title": null, "scale": {"domain": ["pronoun", "noun", "np"]}, "legend": {"labelExpr": "datum.value == 'pronoun' ? 'pronoun input. AP@0.5: 43.83%' : datum.value == 'noun' ? 'noun input.\u00a0\u00a0\u00a0\u00a0\u00a0\u00a0\u00a0\u00a0\u00a0\u00a0\u00a0\u00a0AP@0.5: 51.30%' : 'n-p distillation. AP@0.5: 49.75%'"}}}},
    {"title": {"text": ["Task: get lemon out of tea.", "Category: bottle. Evaluation Type: Box"]}, "data": {"name": "d24"}, "mark": "line",
     "encoding": {"x": {"field": "recall", "type": "quantitative", "title": "Recall", "scale": {"domain": [-0.05, 1.05]}}, "y": {"field": "precision", "type": "quantitative", "title": "Precision", "scale": {"domain": [-0.05, 1.05]}},
      "color": {"field": "run", "type": "nominal", "title": null, "scale": {"domain": ["pronoun", "noun", "np"]}, "legend": {"labelExpr": "datum.value == 'pronoun' ? 'pronoun input. AP@0.5: 28.15%' : datum.value == 'noun' ? 'noun input.\u00a0\u00a0\u00a0\u00a0\u00a0\u00a0\u00a0\u00a0\u00a0\u00a0\u00a0\u00a0AP@0.5: 31.07%' : 'n-p distillation. AP@0.5: 28.09%'"}}}},
    {"title": {"text": ["Task: get lemon out of tea.", "Category: spoon. Evaluation Type: Box"]}, "data": {"name": "d25"}, "mark": "line",
     "encoding": {"x": {"field": "recall", "type": "quantitative", "title": "Recall", "scale": {"domain": [-0.05, 1.05]}}, "y": {"field": "precision", "type": "quantitative", "title": "Precision", "scale": {"domain": [-0.05, 1.05]}},
      "color": {"field": "run", "type": "nominal", "title": null, "scale": {"domain": ["pronoun", "noun", "np"]}, "legend": {"labelExpr": "datum.value == 'pronoun' ? 'pronoun input. AP@0.5: 35.58%' : datum.value == 'noun' ? 'noun input.\u00a0\u00a0\u00a0\u00a0\u00a0\u00a0\u00a0\u00a0\u00a0\u00a0\u00a0\u00a0AP@0.5: 39.86%' : 'n-p distillation. AP@0.5: 39.61%'"}}}},
    {"title": {"text": ["Task: get lemon out of tea.", "Category: knife. Evaluation Type: Box"]}, "data": {"name": "d26"}, "mark": "line",
     "encoding": {"x": {"field": "recall", "type": "quantitative", "title": "Recall", "scale": {"domain": [-0.05, 1.05]}}, "y": {"field": "precision", "type": "quantitative", "title": "Precision", "scale": {"domain": [-0.05, 1.05]}},
      "color": {"field": "run", "type": "nominal", "title": null, "scale": {"domain": ["pronoun", "noun", "np"]}, "legend": {"labelExpr": "datum.value == 'pronoun' ? 'pronoun input. AP@0.5: 28.80%' : datum.value == 'noun' ? 'noun input.\u00a0\u00a0\u00a0\u00a0\u00a0\u00a0\u00a0\u00a0\u00a0\u00a0\u00a0\u00a0AP@0.5: 30.41%' : 'n-p distillation. AP@0.5: 31.03%'"}}}},
    {"title": {"text": ["Task: get lemon out of tea.", "Category: toothbrush. Evaluation Type: Box"]}, "data": {"name": "d27"}, "mark": "line",
     "encoding": {"x": {"field": "recall", "type": "quantitative", "title": "Recall", "scale": {"domain": [-0.05, 1.05]}}, "y": {"field": "precision", "type": "quantitative", "title": "Precision", "scale": {"domain": [-0.05, 1.05]}},
      "color": {"field": "run", "type": "nominal", "title": null, "scale": {"domain": ["pronoun", "noun", "np"]}, "legend": {"labelExpr": "datum.value == 'pronoun' ? 'pronoun input. AP@0.5: 11.62%' : datum.value == 'noun' ? 'noun input.\u00a0\u00a0\u00a0\u00a0\u00a0\u00a0\u00a0\u00a0\u00a0\u00a0\u00a0\u00a0AP@0.5: 11.80%' : 'n-p distillation. AP@0.5: 11.13%'"}}}},
    {"title": {"text": ["Task: get lemon out of tea.", "Category: cup. Evaluation Type: Box"]}, "data": {"name": "d28"}, "mark": "line",
     "encoding": {"x": {"field": "recall", "type": "quantitative", "title": "Recall", "scale": {"domain": [-0.05, 1.05]}}, "y": {"field": "precision", "type": "quantitative", "title": "Precision", "scale": {"domain": [-0.05, 1.05]}},
      "color": {"field": "run", "type": "nominal", "title": null, "scale": {"domain": ["pronoun", "noun", "np"]}, "legend": {"labelExpr": "datum.value == 'pronoun' ? 'pronoun input. AP@0.5: 11.63%' : datum.value == 'noun' ? 'noun input.\u00a0\u00a0\u00a0\u00a0\u00a0\u00a0\u00a0\u00a0\u00a0\u00a0\u00a0\u00a0AP@0.5: 42.69%' : 'n-p distillation. AP@0.5: 11.73%'"}}}},
    {"title": {"text": ["Task: get lemon out of tea.", "Category: scissors. Evaluation Type: Box"]}, "data": {"name": "d29"}, "mark": "line",
     "encoding": {"x": {"field": "recall", "type": "quantitative", "title": "Recall", "scale": {"domain": [-0.05, 1.05]}}, "y": {"field": "precision", "type": "quantitative", "title": "Precision", "scale": {"domain": [-0.05, 1.05]}},
      "color": {"field": "run", "type": "nominal", "title": null, "scale": {"domain": ["pronoun", "noun", "np"]}, "legend": {"labelExpr": "datum.value == 'pronoun' ? 'pronoun input. AP@0.5: 22.31%' : datum.value == 'noun' ? 'noun input.\u00a0\u00a0\u00a0\u00a0\u00a0\u00a0\u00a0\u00a0\u00a0\u00a0\u00a0\u00a0AP@0.5: 35.30%' : 'n-p distillation. AP@0.5: 27.17%'"}}}},
    {"title": {"text": ["Task: get lemon out of tea.", "Category: wine glass. Evaluation Type: Box"]}, "data": {"name": "d30"}, "mark": "line",
     "encoding": {"x": {"field": "recall", "type": "quantitative", "title": "Recall", "scale": {"domain": [-0.05, 1.05]}}, "y": {"field": "precision", "type": "quantitative", "title": "Precision", "scale": {"domain": [-0.05, 1.05]}},
      "color": {"field": "run", "type": "nominal", "title": null, "scale": {"domain": ["pronoun", "noun", "np"]}, "legend": {"labelExpr": "datum.value == 'pronoun' ? 'pronoun input. AP@0.5: 26.74%' : datum.value == 'noun' ? 'noun input.\u00a0\u00a0\u00a0\u00a0\u00a0\u00a0\u00a0\u00a0\u00a0\u00a0\u00a0\u00a0AP@0.5: 34.11%' : 'n-p distillation. AP@0.5: 26.81%'"}}}},
    {"title": {"text": ["Task: get lemon out of tea.", "Category: banana. Evaluation Type: Box"]}, "data": {"name": "d31"}, "mark": "line",
     "encoding": {"x": {"field": "recall", "type": "quantitative", "title": "Recall", "scale": {"domain": [-0.05, 1.05]}}, "y": {"field": "precision", "type": "quantitative", "title": "Precision", "scale": {"domain": [-0.05, 1.05]}},
      "color": {"field": "run", "type": "nominal", "title": null, "scale": {"domain": ["pronoun", "noun", "np"]}, "legend": {"labelExpr": "datum.value == 'pronoun' ? 'pronoun input. AP@0.5: 28.89%' : datum.value == 'noun' ? 'noun input.\u00a0\u00a0\u00a0\u00a0\u00a0\u00a0\u00a0\u00a0\u00a0\u00a0\u00a0\u00a0AP@0.5: 17.50%' : 'n-p distillation. AP@0.5: 23.53%'"}}}},
    {"title": {"text": ["Task: get lemon out of tea.", "Category: bowl. Evaluation Type: Box"]}, "data": {"name": "d32"}, "mark": "line",
     "encoding": {"x": {"field": "recall", "type": "quantitative", "title": "Recall", "scale": {"domain": [-0.05, 1.05]}}, "y": {"field": "precision", "type": "quantitative", "title": "Precision", "scale": {"domain": [-0.05, 1.05]}},
      "color": {"field": "run", "type": "nominal", "title": null, "scale": {"domain": ["pronoun", "noun", "np"]}, "legend": {"labelExpr": "datum.value == 'pronoun' ? 'pronoun input. AP@0.5: 3.65%' : datum.value == 'noun' ? 'noun input.\u00a0\u00a0\u00a0\u00a0\u00a0\u00a0\u00a0\u00a0\u00a0\u00a0\u00a0\u00a0AP@0.5: 39.46%' : 'n-p distillation. AP@0.5: 1.80%'"}}}}
  ]
}
